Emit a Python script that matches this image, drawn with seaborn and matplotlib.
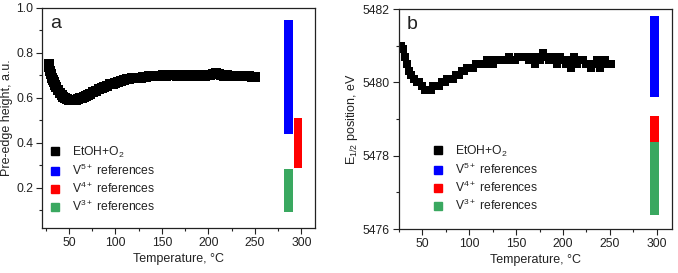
import numpy as np
import pandas as pd
import seaborn as sns
import matplotlib.pyplot as plt
from matplotlib.lines import Line2D
from matplotlib.ticker import MultipleLocator

# panel a: pre-edge height vs temperature
temp_a = [28, 29, 30, 31, 32, 33, 34, 35, 36, 38, 40, 42, 44, 46, 48, 50, 52, 54, 56, 58,
          60, 62, 64, 66, 68, 70, 73, 76, 79, 82, 85, 88, 91, 94, 97, 100, 103, 106, 109,
          112, 115, 118, 121, 124, 127, 130, 133, 136, 139, 142, 145, 148, 151, 154, 157,
          160, 163, 166, 169, 172, 175, 178, 181, 184, 187, 190, 193, 196, 199, 202, 205,
          208, 211, 214, 217, 220, 223, 226, 229, 232, 235, 238, 241, 244, 247, 250]
height_a = [0.748, 0.735, 0.72, 0.705, 0.69, 0.678, 0.668, 0.658, 0.65, 0.635, 0.622, 0.612,
            0.604, 0.598, 0.594, 0.59, 0.589, 0.588, 0.589, 0.591, 0.594, 0.597, 0.6, 0.604,
            0.608, 0.612, 0.618, 0.625, 0.631, 0.637, 0.643, 0.649, 0.654, 0.659, 0.663,
            0.667, 0.671, 0.675, 0.678, 0.682, 0.685, 0.687, 0.689, 0.69, 0.689, 0.692,
            0.694, 0.695, 0.696, 0.697, 0.698, 0.699, 0.7, 0.699, 0.701, 0.7, 0.701, 0.699,
            0.7, 0.702, 0.699, 0.701, 0.7, 0.698, 0.7, 0.699, 0.701, 0.698, 0.702, 0.703,
            0.706, 0.71, 0.704, 0.7, 0.698, 0.703, 0.697, 0.699, 0.696, 0.698, 0.695, 0.697,
            0.695, 0.696, 0.694, 0.694]

# panel b: E1/2 position vs temperature
temp_b = [28, 30, 32, 34, 36, 38, 41, 44, 47, 50, 53, 56, 59, 62, 65, 68, 71, 74, 77, 80,
          83, 86, 89, 92, 95, 98, 101, 104, 107, 110, 113, 116, 119, 122, 125, 128, 131, 134,
          137, 140, 143, 146, 149, 152, 155, 158, 161, 164, 167, 170, 173, 176, 179, 182,
          185, 188, 191, 194, 197, 200, 203, 206, 209, 212, 215, 218, 221, 224, 227, 230,
          233, 236, 239, 242, 245, 248, 251]
e_half_b = [5481.0, 5480.9, 5480.7, 5480.5, 5480.3, 5480.2, 5480.1, 5480.0, 5480.0, 5479.9,
            5479.8, 5479.8, 5479.8, 5479.9, 5479.9, 5479.9, 5480.0, 5480.0, 5480.1, 5480.1,
            5480.1, 5480.2, 5480.2, 5480.3, 5480.3, 5480.4, 5480.4, 5480.4, 5480.5, 5480.5,
            5480.5, 5480.5, 5480.6, 5480.5, 5480.5, 5480.6, 5480.6, 5480.6, 5480.6, 5480.6,
            5480.7, 5480.6, 5480.6, 5480.7, 5480.7, 5480.7, 5480.7, 5480.6, 5480.7, 5480.5,
            5480.7, 5480.6, 5480.8, 5480.7, 5480.6, 5480.7, 5480.6, 5480.5, 5480.7, 5480.6,
            5480.5, 5480.6, 5480.4, 5480.7, 5480.5, 5480.6, 5480.6, 5480.5, 5480.5, 5480.4,
            5480.5, 5480.6, 5480.4, 5480.5, 5480.6, 5480.5, 5480.5]

# reference ranges (low, high) and bar x-positions
ref_labels = ["V$^{5+}$ references", "V$^{4+}$ references", "V$^{3+}$ references"]
ref_colors = ["#0000ff", "#ff0000", "#3aa860"]
ref_a_low = [0.438, 0.289, 0.09]
ref_a_high = [0.947, 0.51, 0.283]
ref_a_x = [286, 296.5, 286]
ref_b_low = [5479.59, 5478.38, 5476.38]
ref_b_high = [5481.81, 5479.09, 5478.38]
ref_b_x = [297.5, 297.5, 297.5]

sns.set_style("ticks")
plt.rcParams['font.family'] = ['Liberation Sans', 'DejaVu Sans']
plt.rcParams['mathtext.fontset'] = 'custom'
plt.rcParams['mathtext.rm'] = 'Liberation Sans'
plt.rcParams['mathtext.it'] = 'Liberation Sans'

fig = plt.figure(figsize=(6.78, 2.73), dpi=100)
ax1 = fig.add_axes([0.062, 0.165, 0.403, 0.806])
ax2 = fig.add_axes([0.588, 0.161, 0.403, 0.806])

text_col = "#222222"


def draw(ax, temps, vals, lows, highs, xs, bar_w, xlim, ylim, ylabel, letter,
         major_y, minor_y, legend_pos, msize):
    df = pd.DataFrame({"T": temps, "v": vals})
    sns.scatterplot(data=df, x="T", y="v", ax=ax, marker="s", s=msize, color="black",
                    linewidth=0, legend=False)
    for x, lo, hi, c in zip(xs, lows, highs, ref_colors):
        ax.bar(x, hi - lo, bottom=lo, width=bar_w, color=c, linewidth=0)
    ax.set_xlim(*xlim)
    ax.set_ylim(*ylim)
    ax.xaxis.set_major_locator(MultipleLocator(50))
    ax.xaxis.set_minor_locator(MultipleLocator(25))
    ax.yaxis.set_major_locator(MultipleLocator(major_y))
    ax.yaxis.set_minor_locator(MultipleLocator(minor_y))
    ax.tick_params(which="major", direction="out", length=4, width=0.8, pad=2.5,
                   labelsize=8.7, colors=text_col, labelcolor=text_col)
    ax.tick_params(which="minor", direction="out", length=2.5, width=0.8, colors=text_col)
    for sp in ax.spines.values():
        sp.set_visible(True)
        sp.set_color("#222222")
        sp.set_linewidth(0.9)
    ax.set_xlabel("Temperature, °C", fontsize=9, color=text_col, labelpad=3)
    ax.set_ylabel(ylabel, fontsize=9, color=text_col, labelpad=2)
    ax.text(0.03, 0.97, letter, transform=ax.transAxes, fontsize=14, va="top",
            color=text_col)
    handles = [Line2D([], [], marker="s", color="black", linestyle="none", markersize=5.5)]
    handles += [Line2D([], [], marker="s", color=c, linestyle="none", markersize=5.5)
                for c in ref_colors]
    ax.legend(handles, ["EtOH+O$_2$"] + ref_labels, loc="lower left",
              bbox_to_anchor=legend_pos, frameon=False, fontsize=8.7,
              handlelength=1.2, handletextpad=0.8, labelspacing=0.25,
              labelcolor=text_col, borderaxespad=0)


draw(ax1, temp_a, height_a, ref_a_low, ref_a_high, ref_a_x, 9, (21, 315), (0.02, 1.0),
     "Pre-edge height, a.u.", "a", 0.2, 0.1, (0.004, 0.04), 45)
draw(ax2, temp_b, e_half_b, ref_b_low, ref_b_high, ref_b_x, 9, (25, 316),
     (5476, 5482), "E$_{1/2}$ position, eV", "b", 2, 1, (0.099, 0.05), 36)

fig.savefig("out.png", dpi=100)
